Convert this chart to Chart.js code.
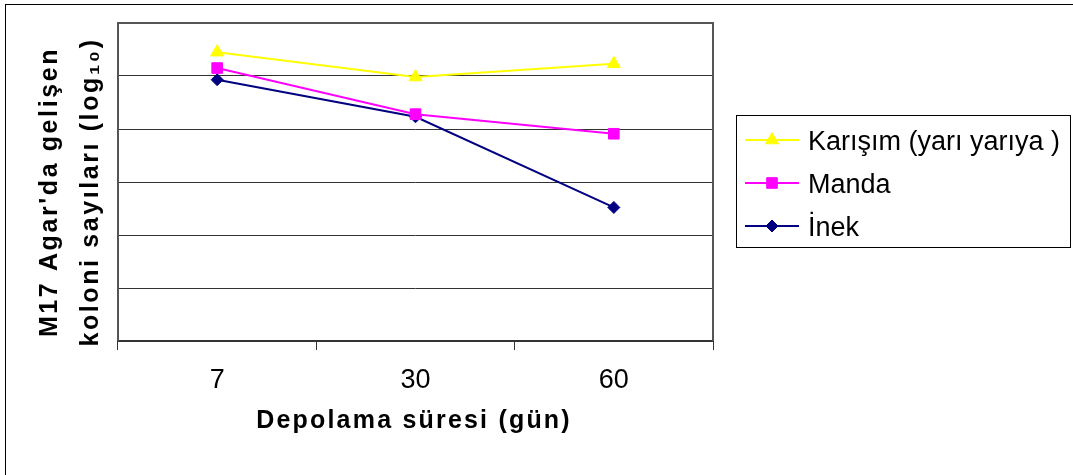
<!DOCTYPE html>
<html>
<head>
<meta charset="utf-8">
<script src="https://cdn.jsdelivr.net/npm/chart.js@4"></script>
<style>
  html, body { margin: 0; padding: 0; background: #fff; }
</style>
</head>
<body>
<canvas id="chart" width="1073" height="475"></canvas>
<script>
// depolama süresi (gün) ve log10 koloni sayıları
const gunler = ['7', '30', '60'];
const karisim = [5.45, 4.98, 5.23];
const manda = [5.15, 4.28, 3.91];
const inek = [4.93, 4.23, 2.52];
const yMin = 0, yMax = 6, yStep = 1;

const seriesNames = ['Karışım (yarı yarıya )', 'Manda', 'İnek'];
const yTitle = ["M17 Agar'da gelişen", 'koloni sayıları (log₁₀)'];
const xTitle = 'Depolama süresi (gün)';

const FONT = '"Liberation Sans", Arial, sans-serif';

// arka plan, dış çerçeve ve çizim alanı çerçevesi
const framePlugin = {
  id: 'frame',
  beforeDraw(chart) {
    const ctx = chart.ctx;
    ctx.save();
    ctx.fillStyle = '#fff';
    ctx.fillRect(0, 0, chart.width, chart.height);
    ctx.strokeStyle = '#000';
    ctx.lineWidth = 1;
    ctx.strokeRect(5.5, 4.5, chart.width + 20, chart.height + 20);
    ctx.restore();
  },
  beforeDatasetsDraw(chart) {
    const { ctx, chartArea: a } = chart;
    ctx.save();
    ctx.strokeStyle = '#555';
    ctx.lineWidth = 2;
    ctx.beginPath();
    ctx.moveTo(a.left, a.bottom);
    ctx.lineTo(a.left, a.top);
    ctx.lineTo(a.right, a.top);
    ctx.lineTo(a.right, a.bottom);
    ctx.stroke();
    ctx.restore();
  }
};

// eksen başlıkları ve kutulu açıklama
const textPlugin = {
  id: 'texts',
  afterDraw(chart) {
    const ctx = chart.ctx;
    ctx.save();
    ctx.fillStyle = '#000';

    // y ekseni başlığı (iki satır)
    ctx.font = 'bold 25px ' + FONT;
    ctx.letterSpacing = '2.6px';
    ctx.textAlign = 'center';
    ctx.textBaseline = 'alphabetic';
    const yx = [57, 98];
    yTitle.forEach((line, i) => {
      ctx.save();
      ctx.translate(yx[i], 192);
      ctx.rotate(-Math.PI / 2);
      ctx.fillText(line, 0, 0);
      ctx.restore();
    });

    // x ekseni başlığı
    ctx.letterSpacing = '2.2px';
    ctx.fillText(xTitle, 414, 428);
    ctx.letterSpacing = '0px';

    // açıklama kutusu
    ctx.strokeStyle = '#000';
    ctx.lineWidth = 1;
    ctx.strokeRect(736.5, 115.5, 334, 132);
    const rows = [140, 183, 226];
    ctx.font = '27px ' + FONT;
    ctx.textAlign = 'left';
    chart.data.datasets.forEach((ds, i) => {
      const y = rows[i];
      ctx.strokeStyle = ds.borderColor;
      ctx.lineWidth = 2;
      ctx.beginPath();
      ctx.moveTo(745, y);
      ctx.lineTo(799, y);
      ctx.stroke();
      ctx.fillStyle = ds.pointBackgroundColor;
      ctx.strokeStyle = ds.borderColor;
      ctx.lineWidth = 1;
      Chart.helpers.drawPoint(ctx, {
        pointStyle: ds.pointStyle, radius: ds.pointRadius, borderWidth: 1, rotation: 0
      }, 772, y);
      ctx.fillStyle = '#000';
      ctx.fillText(ds.label, 808, y + 9.5);
    });
    ctx.restore();
  }
};

const ctx = document.getElementById('chart').getContext('2d');
new Chart(ctx, {
  type: 'line',
  data: {
    labels: gunler,
    datasets: [
      {
        label: seriesNames[0], data: karisim,
        borderColor: '#FFFF00', pointBackgroundColor: '#FFFF00', pointBorderColor: '#FFFF00',
        pointStyle: 'triangle', pointRadius: 7.5
      },
      {
        label: seriesNames[1], data: manda,
        borderColor: '#FF00FF', pointBackgroundColor: '#FF00FF', pointBorderColor: '#FF00FF',
        pointStyle: 'rect', pointRadius: 7.5
      },
      {
        label: seriesNames[2], data: inek,
        borderColor: '#000080', pointBackgroundColor: '#000080', pointBorderColor: '#000080',
        pointStyle: 'rectRot', pointRadius: 6
      }
    ]
  },
  options: {
    responsive: false,
    animation: false,
    events: [],
    elements: {
      line: { borderWidth: 2, tension: 0, fill: false },
      point: { borderWidth: 1 }
    },
    layout: { padding: { left: 0, top: 23, right: 360, bottom: 0 } },
    plugins: {
      legend: { display: false },
      tooltip: { enabled: false }
    },
    scales: {
      x: {
        offset: true,
        grid: { offset: true, drawOnChartArea: false, drawTicks: true, tickLength: 9, color: '#333', lineWidth: 1 },
        border: { color: '#333', width: 2 },
        ticks: { color: '#000', padding: 14, font: { family: FONT, size: 27 } },
        afterFit(scale) { scale.height = 134; }
      },
      y: {
        min: yMin, max: yMax,
        ticks: { stepSize: yStep, display: false },
        grid: { color: '#333', lineWidth: 1, drawTicks: false },
        border: { display: false },
        afterFit(scale) { scale.width = 118; }
      }
    }
  },
  plugins: [framePlugin, textPlugin]
});
</script>
</body>
</html>
